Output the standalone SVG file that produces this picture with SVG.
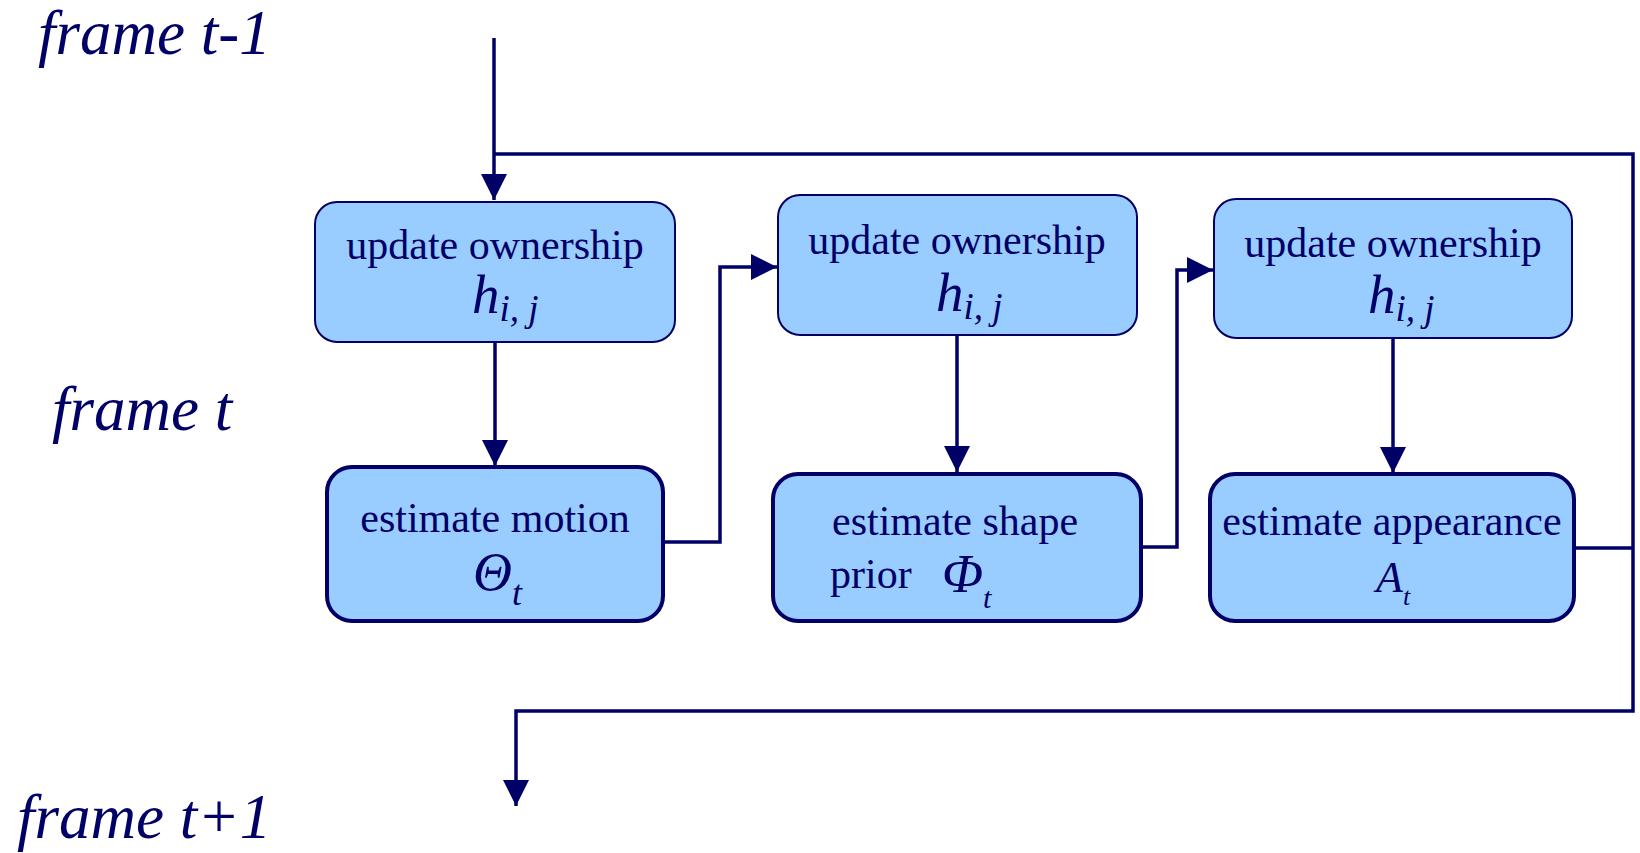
<svg xmlns="http://www.w3.org/2000/svg" width="1640" height="853" viewBox="0 0 1640 853">
<defs>
<marker id="arr" markerUnits="userSpaceOnUse" markerWidth="27" markerHeight="27" refX="26" refY="13" orient="auto">
<path d="M0,0 L26,13 L0,26 z" fill="#000066"/>
</marker>
<style>
.top{fill:#99CCFF;stroke:#000066;stroke-width:2}
.bot{fill:#99CCFF;stroke:#000066;stroke-width:4}
.t{font-family:"Liberation Serif","Times New Roman",serif;fill:#000066;font-size:42px}
.m{font-family:"Liberation Serif","Times New Roman",serif;fill:#000066;font-style:italic}
.lab{font-family:"Liberation Serif","Times New Roman",serif;fill:#000066;font-style:italic;font-size:63px}
.c{fill:none;stroke:#000066;stroke-width:3.5}
</style>
</defs>
<rect width="1640" height="853" fill="#ffffff"/>
<text class="lab" x="38" y="54">frame t-1</text>
<text class="lab" x="52" y="430">frame t</text>
<text class="lab" x="17" y="838">frame t+1</text>
<g id="connectors">
<path class="c" d="M494,38 L494,200" marker-end="url(#arr)"/>
<path class="c" d="M494,154 L1633,154 L1633,711 L516,711 L516,806" marker-end="url(#arr)"/>
<path class="c" d="M1574,548 L1633,548"/>
<path class="c" d="M495,342 L495,466" marker-end="url(#arr)"/>
<path class="c" d="M663,542 L720,542 L720,267 L777,267" marker-end="url(#arr)"/>
<path class="c" d="M957,335 L957,472" marker-end="url(#arr)"/>
<path class="c" d="M1141,547 L1177,547 L1177,270 L1213,270" marker-end="url(#arr)"/>
<path class="c" d="M1393,338 L1393,473" marker-end="url(#arr)"/>
</g>
<g id="n1">
<rect class="top" x="315" y="202" width="360" height="140" rx="22"/>
<text class="t" x="495" y="259" text-anchor="middle">update ownership</text>
<text class="m" x="472" y="313" font-size="55">h<tspan font-size="37" dy="8">i, j</tspan></text>
</g>
<g id="n2">
<rect class="top" x="778" y="195" width="359" height="140" rx="22"/>
<text class="t" x="957" y="254" text-anchor="middle">update ownership</text>
<text class="m" x="936" y="311" font-size="55">h<tspan font-size="37" dy="8">i, j</tspan></text>
</g>
<g id="n3">
<rect class="top" x="1214" y="199" width="358" height="139" rx="22"/>
<text class="t" x="1393" y="257" text-anchor="middle">update ownership</text>
<text class="m" x="1368" y="313" font-size="55">h<tspan font-size="37" dy="8">i, j</tspan></text>
</g>
<g id="n4">
<rect class="bot" x="327" y="467" width="336" height="154" rx="25"/>
<text class="t" x="495" y="532" text-anchor="middle">estimate motion</text>
<text class="m" x="473" y="590" font-size="54">Θ<tspan font-size="36" dy="15">t</tspan></text>
</g>
<g id="n5">
<rect class="bot" x="773" y="474" width="368" height="147" rx="25"/>
<text class="t" x="832" y="535">estimate shape</text>
<text class="t" x="830" y="588">prior</text>
<text class="m" x="942" y="592" font-size="54">Φ<tspan font-size="30" dy="16">t</tspan></text>
</g>
<g id="n6">
<rect class="bot" x="1210" y="474" width="364" height="147" rx="25"/>
<text class="t" x="1392" y="535" text-anchor="middle">estimate appearance</text>
<text class="m" x="1376" y="592" font-size="44">A<tspan font-size="26" dy="13">t</tspan></text>
</g>
</svg>
